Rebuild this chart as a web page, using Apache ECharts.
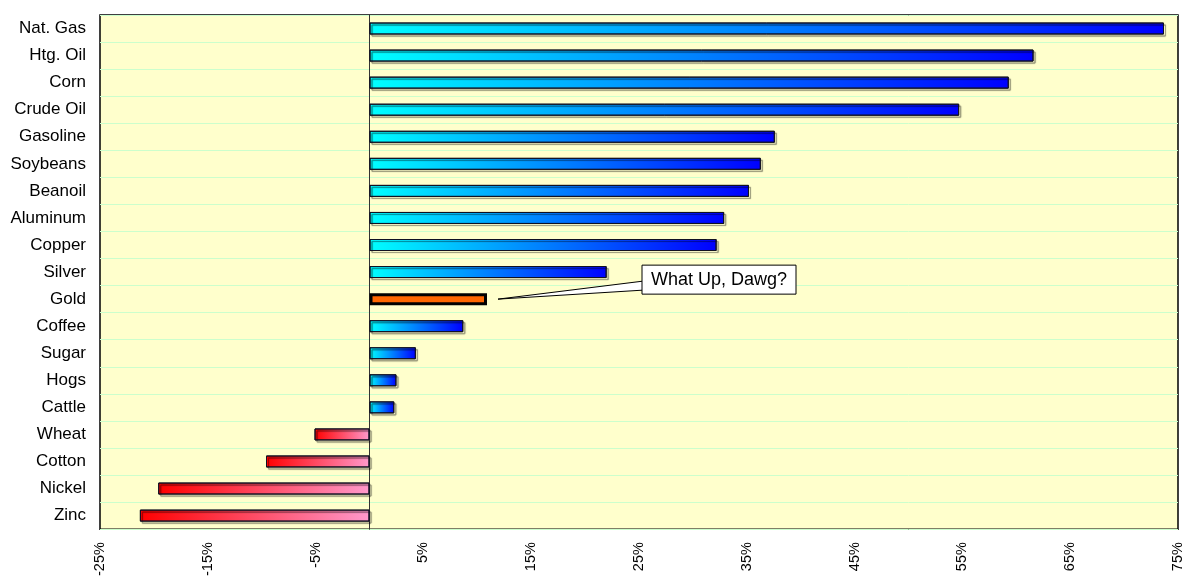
<!DOCTYPE html>
<html>
<head>
<meta charset="utf-8">
<script src="https://cdn.jsdelivr.net/npm/echarts@6/dist/echarts.min.js"></script>
<style>
  html, body { margin: 0; padding: 0; background: #fff; }
  #chart { width: 1188px; height: 579px; }
</style>
</head>
<body>
<div id="chart"></div>
<script>
// commodities, top to bottom
const categories = ["Nat. Gas", "Htg. Oil", "Corn", "Crude Oil", "Gasoline", "Soybeans", "Beanoil",
  "Aluminum", "Copper", "Silver", "Gold", "Coffee", "Sugar", "Hogs", "Cattle", "Wheat", "Cotton",
  "Nickel", "Zinc"];
// % change
const changes = [73.7, 61.6, 59.3, 54.7, 37.6, 36.3, 35.2, 32.9, 32.2, 22.0, 10.9, 8.7, 4.3, 2.5,
  2.3, -5.1, -9.6, -19.6, -21.3];
const highlight = "Gold";
const calloutText = "What Up, Dawg?";

const FONT = "Arial, 'Liberation Sans', sans-serif";

function barStyle(name, v) {
  if (name === highlight) {
    return { color: "#FF6600", borderColor: "#000", borderWidth: 3 };
  }
  const stops = v >= 0
    ? [{ offset: 0, color: "#00FFFF" }, { offset: 1, color: "#0000FF" }]
    : [{ offset: 0, color: "#FF0000" }, { offset: 1, color: "#FF99CC" }];
  return {
    color: { type: "linear", x: 0, y: 0, x2: 1, y2: 0, colorStops: stops, global: false },
    borderColor: "#111122",
    borderWidth: 1,
    shadowColor: "rgba(0,0,0,0.45)",
    shadowBlur: 1,
    shadowOffsetX: 2,
    shadowOffsetY: 2,
  };
}

const myChart = echarts.init(document.getElementById("chart"));

const option = {
  animation: false,
  grid: {
    left: 100,
    right: 10,
    top: 15,
    bottom: 49,
    show: true,
    backgroundColor: "#FFFFCC",
    borderColor: "#000",
    borderWidth: 1.5,
  },
  xAxis: {
    type: "value",
    min: -25,
    max: 75,
    interval: 5,
    axisLine: { show: false },
    axisTick: { show: false },
    splitLine: { show: false },
    axisLabel: {
      rotate: 90,
      margin: 13,
      color: "#000",
      fontFamily: FONT,
      fontSize: 14.5,
      formatter: (v) => (Math.abs(v) % 10 === 5 ? v + "%" : ""),
    },
  },
  yAxis: {
    type: "category",
    inverse: true,
    data: categories,
    axisLine: { show: true, onZero: true, lineStyle: { color: "#333", width: 1 } },
    axisTick: { show: false },
    splitLine: { show: true, lineStyle: { color: "#CCFFCC", width: 1 } },
    axisLabel: {
      margin: 14,
      color: "#000",
      fontFamily: FONT,
      fontSize: 17,
    },
  },
  series: [
    {
      type: "bar",
      barWidth: 12,
      data: changes.map((v, i) => ({ value: v, itemStyle: barStyle(categories[i], v) })),
    },
  ],
};

myChart.setOption(option);

// callout pointing at the highlighted bar
const hi = categories.indexOf(highlight);
const pt = myChart.convertToPixel({ gridIndex: 0 }, [changes[hi], highlight]);
const px = pt[0] + 11, py = pt[1];
const bx = pt[0] + 155, by = py - 34, bw = 154, bh = 29;
myChart.setOption({
  graphic: [
    {
      type: "polygon",
      shape: { points: [[px, py], [bx + 1, by + 16], [bx + 1, by + 25]] },
      style: { fill: "#fff", stroke: "#000", lineWidth: 1 },
      z: 100,
    },
    {
      type: "rect",
      shape: { x: bx, y: by, width: bw, height: bh },
      style: { fill: "#fff", stroke: "#000", lineWidth: 1 },
      z: 101,
    },
    {
      type: "text",
      x: bx + bw / 2,
      y: by + bh / 2,
      style: {
        text: calloutText,
        fill: "#000",
        font: "18px " + FONT,
        align: "center",
        verticalAlign: "middle",
      },
      z: 102,
    },
  ],
});
</script>
</body>
</html>
